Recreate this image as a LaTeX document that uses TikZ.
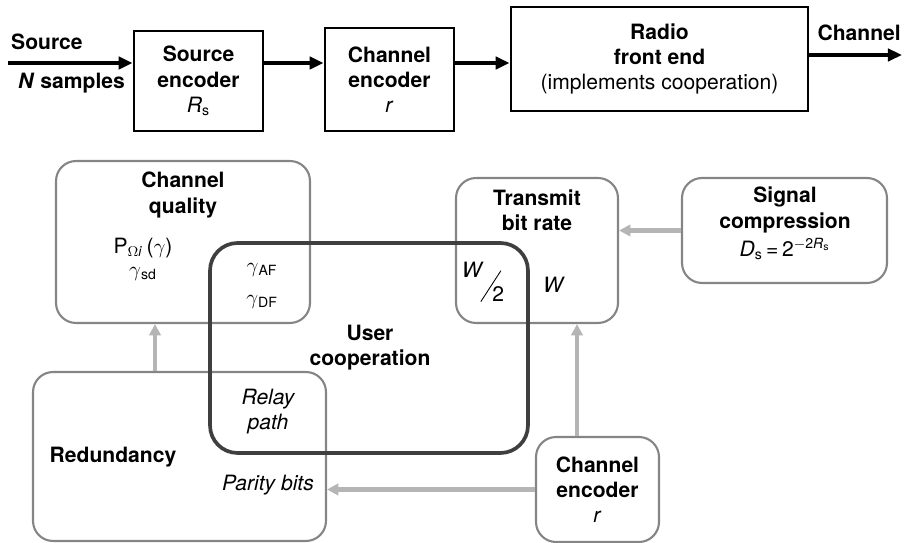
\documentclass[tikz,border=0pt]{standalone}
\usepackage{fontspec}
\setmainfont{TeX Gyre Heros}
\usepackage{tikz}
\usetikzlibrary{arrows.meta}

\definecolor{boxgray}{HTML}{858585}
\definecolor{arrowgray}{HTML}{B5B5B5}
\definecolor{coopdark}{HTML}{3F3F3F}

\begin{document}
\begin{tikzpicture}[
    x=0.02cm, y=-0.02cm,
    every node/.style={font=\fontsize{12}{14.3}\selectfont, align=center},
    topbox/.style={draw=black, line width=1.6pt, inner sep=0pt},
    softbox/.style={draw=boxgray, line width=1.2pt, rounded corners=0.4cm, inner sep=0pt},
    coopbox/.style={draw=coopdark, line width=2.1pt, rounded corners=0.55cm, inner sep=0pt},
    blackarrow/.style={black, line width=2pt, -{Triangle[length=8pt, width=7pt]}},
    grayarrow/.style={arrowgray, line width=2.3pt, -{Triangle[length=6.5pt, width=6.5pt]}},
    boldlabel/.style={font=\fontsize{12}{14.3}\selectfont\bfseries},
    itlabel/.style={font=\fontsize{12}{14.3}\selectfont\itshape},
]

\useasboundingbox (0,0) rectangle (910,543);

% ── Transmit chain ──────────────────────────────────────────
\node[topbox, minimum width=2.58cm, minimum height=2.0cm] (srcenc) at (198.5,81)
    {\bfseries Source\\\bfseries encoder\\\textit{R}\textsubscript{s}};
\node[topbox, minimum width=2.58cm, minimum height=2.06cm] (chenc) at (389.5,79.5)
    {\bfseries Channel\\\bfseries encoder\\\textit{r}};
\node[topbox, minimum width=5.94cm, minimum height=2.08cm] (radio) at (659.5,59)
    {\bfseries Radio\\\bfseries front end\\(implements cooperation)};

\coordinate (srcin) at (8,63);
\coordinate (chout) at (902,55);

\draw[blackarrow] (srcin) -- (srcin -| srcenc.west);
\draw[blackarrow] (srcenc.east |- srcin) -- (chenc.west |- srcin);
\draw[blackarrow] (chenc.east |- srcin) -- (radio.west |- srcin);
\draw[blackarrow] (radio.east |- chout) -- (chout);

\node[boldlabel, anchor=west] (srclabel) at (5,42) {Source};
\node[boldlabel, anchor=west] (nlabel) at (12,83) {\textit{N} samples};
\node[boldlabel, anchor=east] (chlabel) at (907,33) {Channel};

% ── Design tradeoffs ────────────────────────────────────────
\node[softbox, minimum width=5.08cm, minimum height=3.24cm] (quality) at (183,242) {};
\node[softbox, minimum width=3.24cm, minimum height=2.9cm] (rate) at (537,250.5) {};
\node[softbox, minimum width=4.1cm, minimum height=2.1cm] (compress) at (784.5,230.5) {};
\node[softbox, minimum width=5.86cm, minimum height=3.38cm] (redund) at (179.5,456.5) {};
\node[softbox, minimum width=2.46cm, minimum height=2.1cm] (chenc2) at (597.5,489.5)
    {\bfseries Channel\\\bfseries encoder\\\textit{r}};

% User cooperation on top
\node[coopbox, minimum width=6.36cm, minimum height=4.2cm] (coop) at (369,348) {};

% Channel quality
\node[boldlabel] (qtitle) at (183,195) {Channel\\quality};
\node (pomega) at (143,248) {P\textsubscript{$\Omega$\textit{i}}\,($\gamma$)};
\node (gsd) at (143,274) {$\gamma$\textsubscript{sd}};
\node (gaf) at (262,270) {$\gamma$\textsubscript{AF}};
\node (gdf) at (262,302) {$\gamma$\textsubscript{DF}};

% Transmit bit rate
\node[boldlabel] (rtitle) at (537,210) {Transmit\\bit rate};
\node (whalf) at (483,282)
    {\raisebox{.9ex}{\textit{W}}\kern-.15em\raisebox{-1.3ex}{\rotatebox{57}{\rule{1.75em}{0.5pt}}}\kern-.42em\raisebox{-1.3ex}{2}};
\node (wfull) at (554,285) {\textit{W}};

% Signal compression
\node[boldlabel] (ctitle) at (785,210) {Signal\\compression};
\node (dist) at (785,249)
    {\textit{D}\textsubscript{s}\,=\,2\textsuperscript{$-$2\textit{R}\textsubscript{s}}};

% User cooperation, redundancy
\node[boldlabel] (utitle) at (370,348) {User\\cooperation};
\node[itlabel] (relay) at (268,412) {Relay\\path};
\node[itlabel] (parity) at (268,485) {Parity bits};
\node[boldlabel] (rtext) at (113,457) {Redundancy};

% ── Dependencies ────────────────────────────────────────────
\draw[grayarrow] ([xshift=-0.49cm]redund.north) -- ([xshift=-0.49cm]redund.north |- quality.south);
\draw[grayarrow] ([xshift=-0.41cm]chenc2.north) -- ([xshift=-0.41cm]chenc2.north |- rate.south);
\draw[grayarrow] (chenc2.west) -- (chenc2.west -| redund.east);
\draw[grayarrow] (compress.west) -- (compress.west -| rate.east);

\end{tikzpicture}
\end{document}
